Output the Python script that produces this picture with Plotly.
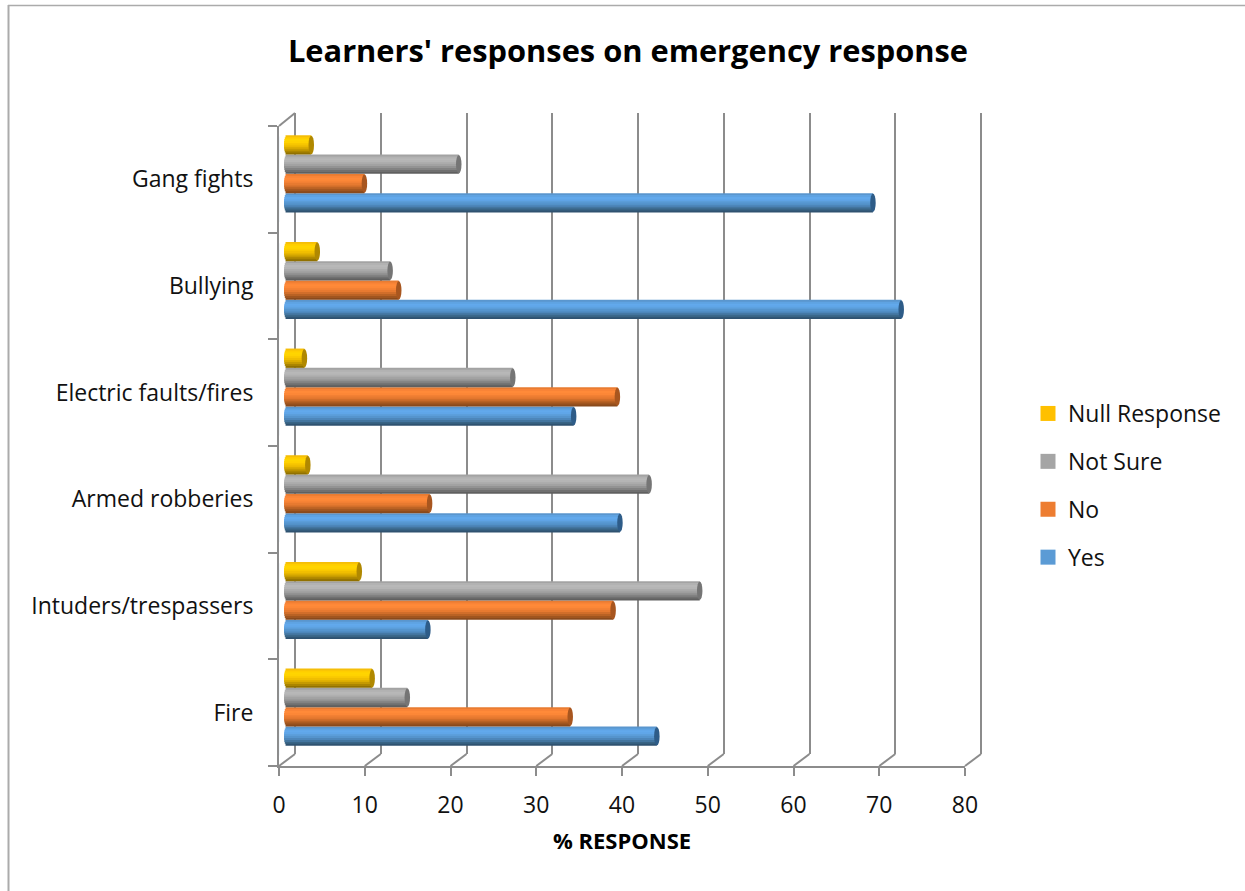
import plotly.graph_objects as go

# Survey results, bottom category first
categories = ["Fire", "Intuders/trespassers", "Armed robberies",
              "Electric faults/fires", "Bullying", "Gang fights"]
yes_values = [43.8, 17.1, 39.5, 34.1, 72.3, 69.0]
no_values = [33.7, 38.7, 17.3, 39.2, 13.7, 9.7]
not_sure_values = [14.7, 48.8, 42.9, 27.0, 12.7, 20.7]
null_values = [10.6, 9.1, 3.1, 2.7, 4.2, 3.5]
x_ticks = [0, 10, 20, 30, 40, 50, 60, 70, 80]

WIDTH, HEIGHT = 1245, 891
FONT = "Open Sans"

# Shading runs across each cylinder: top edge, highlight, then shadow
series = [
    ("Yes", yes_values, "#5B9BD5", ["#5A96CE", "#5FA3E2", "#62A9EC", "#60A6E8", "#5B9DD9",
                                    "#5594CD", "#4D86BA", "#43759F", "#396485", "#2F5270"], "#2E5C88"),
    ("No", no_values, "#ED7D31", ["#E97C32", "#F98437", "#FF8A39", "#FC8737", "#F28034",
                                  "#E77A30", "#D16E2A", "#B96224", "#A0551F", "#8A4A1C"], "#A8561F"),
    ("Not Sure", not_sure_values, "#A5A5A5", ["#A3A3A3", "#B2B2B2", "#B8B8B8", "#B5B5B5", "#ABABAB",
                                              "#A2A2A2", "#939393", "#828282", "#707070", "#606060"], "#757575"),
    ("Null Response", null_values, "#FFC000", ["#F5BE08", "#FFCE00", "#FFD500", "#FFD200", "#F9C800",
                                               "#F0BE00", "#DCAD00", "#C59A00", "#AB8500", "#917100"], "#B08800"),
]

SCALE = 85.75          # pixels per 10 response points
X_FRONT, Y_FLOOR, Y_TOP = 279.0, 766.0, 126.0
X_BACK, Y_BACK_FLOOR, Y_BACK_TOP = 295.0, 754.0, 113.0
X_BAR, Y_BAR_SHIFT = 284.0, 5.5
AXIS_GREY = "#8C8C8C"
SPAN = SCALE * 8


def x_dom(left, pad=0.0):
    return [(left - pad) / WIDTH, (left + SPAN + pad) / WIDTH]


def y_dom(top, bottom):
    return [1 - bottom / HEIGHT, 1 - top / HEIGHT]


fig = go.Figure()

BAR_H = 0.181          # cylinder thickness in category bands
CAP = 0.32             # end-cap half length in data units
shapes = []

for s, (name, values, swatch, shades, cap_colour) in enumerate(series):
    low = -2 * BAR_H + s * BAR_H
    strips = len(shades)
    mid = low + BAR_H / 2
    # Each strip runs from its outer edge to the centre line, outermost first,
    # so neighbouring shades overlap without seams
    order = sorted(range(strips), key=lambda k: -abs(k - (strips - 1) / 2))
    for k in order:
        top_edge = low + BAR_H * (strips - k) / strips
        bottom_edge = low + BAR_H * (strips - 1 - k) / strips
        if k < strips / 2:
            off, wid = mid - 0.002, top_edge - mid + 0.002
        else:
            off, wid = bottom_edge, mid - bottom_edge + 0.002
        t = (k + 0.5) / strips * 2 - 1
        round_in = CAP * (1 - (1 - t * t) ** 0.5)
        fig.add_trace(go.Bar(
            y=list(range(len(categories))),
            x=[v - CAP - round_in for v in values],
            base=round_in,
            orientation="h",
            width=wid,
            offset=off,
            marker=dict(color=shades[k], line=dict(width=0)),
            xaxis="x2", yaxis="y2", showlegend=False, hoverinfo="skip",
        ))
    for i, v in enumerate(values):
        shapes.append(dict(
            type="circle", xref="x2", yref="y2", layer="above",
            x0=v - 2 * CAP, x1=v, y0=i + low + 0.004, y1=i + low + BAR_H - 0.004,
            fillcolor=cap_colour, line=dict(width=0),
        ))

# Legend entries, top row first
for name, values, swatch, shades, cap_colour in reversed(series):
    fig.add_trace(go.Scatter(
        x=[None], y=[None], mode="markers", name=name, legendgroup=name,
        marker=dict(symbol="square", size=15, color=swatch),
        xaxis="x2", yaxis="y2",
    ))

# Floor ticks joined to the back wall by short slanted lines
for tick in x_ticks:
    shapes.append(dict(
        type="line", xref="paper", yref="paper", layer="below",
        x0=(X_FRONT + tick * SCALE / 10) / WIDTH, y0=1 - Y_FLOOR / HEIGHT,
        x1=(X_BACK + tick * SCALE / 10) / WIDTH, y1=1 - Y_BACK_FLOOR / HEIGHT,
        line=dict(color=AXIS_GREY, width=2),
    ))
# Top-left slant of the side wall
shapes.append(dict(
    type="line", xref="paper", yref="paper", layer="below",
    x0=X_FRONT / WIDTH, y0=1 - Y_TOP / HEIGHT,
    x1=X_BACK / WIDTH, y1=1 - Y_BACK_TOP / HEIGHT,
    line=dict(color=AXIS_GREY, width=2),
))
# Chart frame: left and top edges only
shapes.append(dict(type="line", xref="paper", yref="paper", x0=8.5 / WIDTH, x1=8.5 / WIDTH,
                   y0=0, y1=1 - 5 / HEIGHT, line=dict(color="#ABABAB", width=2)))
shapes.append(dict(type="line", xref="paper", yref="paper", x0=8 / WIDTH, x1=1,
                   y0=1 - 5.5 / HEIGHT, y1=1 - 5.5 / HEIGHT, line=dict(color="#ABABAB", width=1.5)))

# Back wall grid comes first so the bars cover it
fig.add_trace(go.Scatter(x=[None], y=[None], xaxis="x", yaxis="y", showlegend=False, hoverinfo="skip"))
# Front axes carry the labels
fig.add_trace(go.Bar(
    y=categories, x=[0] * len(categories), orientation="h",
    xaxis="x3", yaxis="y3", showlegend=False, hoverinfo="skip",
))

fig.update_layout(
    width=WIDTH, height=HEIGHT, autosize=False,
    margin=dict(l=0, r=0, t=0, b=0, autoexpand=False),
    paper_bgcolor="white", plot_bgcolor="rgba(0,0,0,0)",
    barmode="overlay",
    font=dict(family=FONT, color="#111111", size=23),
    title=dict(text="<b>Learners' responses on emergency response</b>",
               x=628 / WIDTH, xanchor="center", y=1 - 51 / HEIGHT, yanchor="middle",
               font=dict(family=FONT, size=30.8, color="#000000")),
    # The wall axis runs one unit past each end so the first and last grid lines are kept
    xaxis=dict(domain=x_dom(X_BACK, SCALE / 10), range=[-1, 81], tickvals=x_ticks, showticklabels=False,
               ticks="", showgrid=True, gridcolor=AXIS_GREY, gridwidth=2, zeroline=False,
               showline=False, anchor="y", fixedrange=True),
    yaxis=dict(domain=y_dom(Y_BACK_TOP, Y_BACK_FLOOR), range=[0, 1], visible=False,
               anchor="x", fixedrange=True),
    xaxis2=dict(domain=x_dom(X_BAR), range=[0, 80], visible=False, anchor="y2", fixedrange=True),
    yaxis2=dict(domain=y_dom(Y_TOP - Y_BAR_SHIFT, Y_FLOOR - Y_BAR_SHIFT), range=[-0.5, 5.5],
                visible=False, anchor="x2", fixedrange=True),
    xaxis3=dict(domain=x_dom(X_FRONT), range=[0, 80], tickvals=x_ticks, ticks="outside",
                ticklen=8, tickwidth=1.5, tickcolor=AXIS_GREY, showline=True, linecolor=AXIS_GREY,
                linewidth=2, showgrid=False, zeroline=False, anchor="y3", fixedrange=True,
                ticklabelstandoff=9,
                tickfont=dict(family=FONT, size=23, color="#111111"),
                title=dict(text="<b>% RESPONSE</b>", standoff=15,
                           font=dict(family=FONT, size=22, color="#000000"))),
    yaxis3=dict(domain=y_dom(Y_TOP, Y_FLOOR), type="category", categoryorder="array",
                categoryarray=categories, range=[-0.5, 5.5], tickson="boundaries", ticks="outside",
                ticklen=9, tickwidth=1.5, tickcolor=AXIS_GREY, showline=True, linecolor=AXIS_GREY,
                linewidth=2, showgrid=False, zeroline=False, anchor="x3", fixedrange=True,
                ticklabelstandoff=19,
                tickfont=dict(family=FONT, size=23, color="#111111")),
    legend=dict(x=1028 / WIDTH, xanchor="left", y=1 - 392 / HEIGHT, yanchor="top",
                traceorder="grouped", tracegroupgap=15, itemwidth=30,
                bgcolor="rgba(0,0,0,0)", font=dict(family=FONT, size=23, color="#111111")),
    shapes=shapes,
)

fig.write_html("out.html", config=dict(displayModeBar=False))
